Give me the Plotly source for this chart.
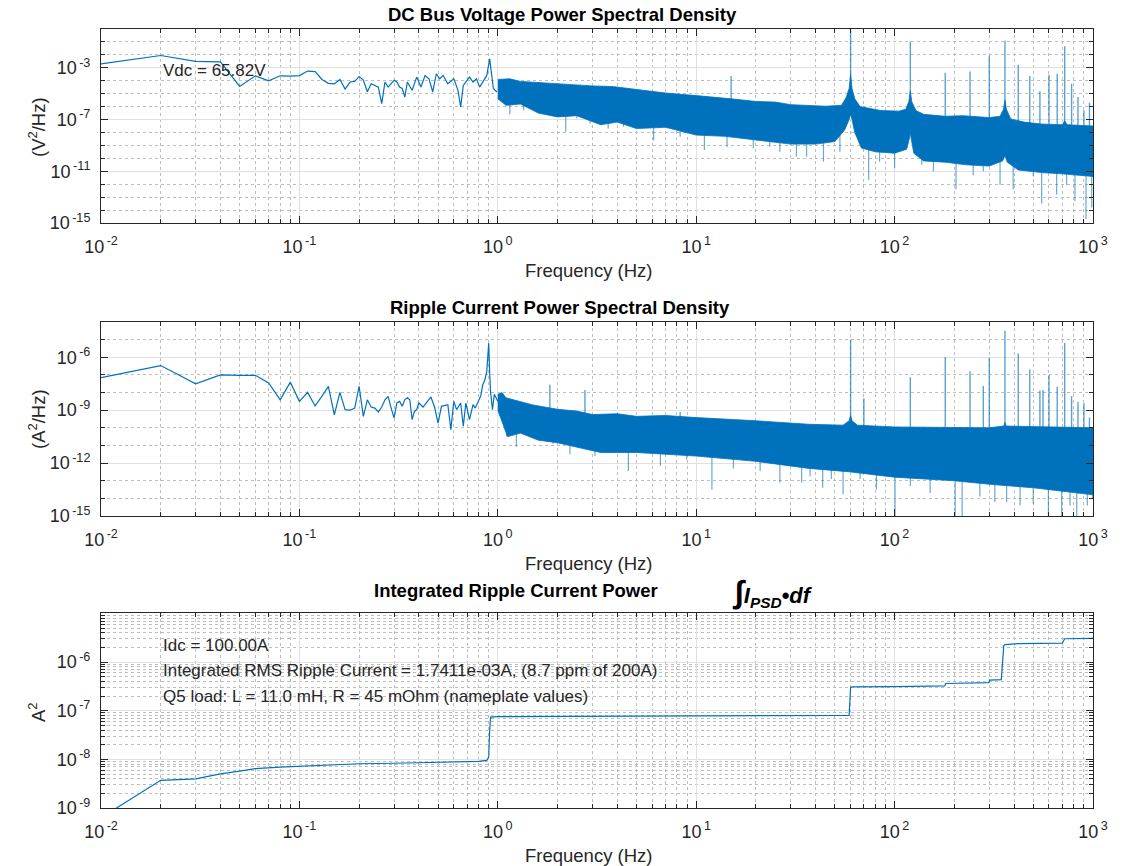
import numpy as np
import plotly.graph_objects as go

# ---------------- canvas / layout geometry (page pixel frame) ----------------
W, H = 1124, 866
AX_L, AX_R, AX_T, AX_B = 101, 1093, 29, 808          # plot block edges in page pixels
L, T = AX_L, AX_T
R, B = W - AX_R, H - AX_B
BLUE = '#0072BD'
AXC = '#262626'
FONT = 'Liberation Sans, Arial, Helvetica, sans-serif'

# ---------------- Panel 1 : DC bus voltage PSD (log10 V^2/Hz) ----------------
vdc_low_f = [0.01, 0.02, 0.03, 0.04, 0.05, 0.06, 0.07, 0.08, 0.09, 0.10, 0.11, 0.12, 0.13,
             0.14, 0.15, 0.16, 0.17, 0.18, 0.19, 0.20, 0.21, 0.22, 0.23, 0.24, 0.25, 0.26,
             0.27, 0.28, 0.30, 0.31, 0.32, 0.33, 0.34, 0.35, 0.37, 0.39, 0.41, 0.43, 0.45,
             0.47, 0.49, 0.51, 0.53, 0.56, 0.60, 0.63, 0.65, 0.67, 0.70, 0.72, 0.75, 0.78,
             0.81, 0.84, 0.88, 0.91, 0.95, 0.99]
vdc_low_log = [-2.69, -2.05, -2.51, -2.54, -4.44, -3.62, -4.00, -3.62, -3.65, -3.60, -3.25, -3.30, -3.90,
               -4.20, -4.25, -3.90, -4.64, -4.10, -4.05, -3.67, -3.95, -4.85, -4.23, -4.36, -4.50, -5.77,
               -4.10, -4.49, -3.97, -4.10, -4.49, -4.60, -5.26, -4.10, -4.74, -3.72, -4.49, -3.59, -3.85,
               -4.87, -3.46, -3.85, -3.59, -4.23, -3.85, -4.74, -6.03, -4.36, -3.97, -3.72, -4.10, -3.85,
               -4.49, -4.10, -3.59, -2.31, -4.60, -4.87]

vdc_up_f = [1.0, 1.15, 1.3, 1.6, 2.0, 2.4, 3.0, 3.8, 5.0, 7.0, 10, 12, 15, 20, 25, 30, 45, 54, 57,
            59, 60, 61, 63, 67, 85, 105, 114, 118, 120, 122, 128, 140, 180, 220, 260, 300, 340,
            354, 360, 366, 385, 450, 550, 700, 720, 740, 850, 1000]
vdc_up_log = [-3.9, -3.85, -4.05, -4.15, -4.2, -4.3, -4.4, -4.45, -4.7, -4.95, -5.15, -5.25, -5.4,
              -5.6, -5.65, -5.85, -5.97, -5.9, -5.3, -4.6, -3.5, -4.6, -5.4, -6.0, -6.3, -6.35,
              -6.2, -5.6, -4.8, -5.6, -6.3, -6.6, -6.75, -6.7, -6.8, -6.85, -6.75, -6.2, -5.5,
              -6.2, -6.95, -7.2, -7.35, -7.4, -7.1, -7.4, -7.45, -7.5]
vdc_lo_f = [1.0, 1.1, 1.3, 1.6, 2.0, 2.5, 3.3, 4, 5, 7, 10, 14, 20, 30, 40, 50, 56, 59, 60, 61, 63,
            68, 80, 100, 115, 119, 120, 121, 125, 140, 180, 230, 300, 350, 360, 370, 420, 550,
            700, 850, 1000]
vdc_lo_log = [-5.4, -5.9, -5.8, -6.5, -6.8, -6.7, -7.4, -7.2, -7.7, -7.6, -8.2, -8.3, -8.6, -8.9,
              -8.9, -8.7, -7.8, -7.0, -6.6, -7.0, -8.0, -9.2, -9.5, -9.6, -9.3, -8.4, -8.0, -8.4,
              -9.6, -10.2, -10.3, -10.5, -10.6, -10.2, -9.8, -10.3, -10.9, -11.1, -11.2, -11.3,
              -11.4]
vdc_spike_f = [15, 60, 120, 180, 240, 300, 360, 420, 480, 540, 600, 660, 720, 780, 840, 900, 960]
vdc_spike_log = [-3.64, 0.5, -0.97, -3.38, -3.28, -2.05, -0.9, -2.77, -3.64, -4.82, -3.54, -3.46,
                 -1.33, -4.23, -5.26, -6.28, -5.7]
vdc_dip_f = [1.15, 1.35, 1.6, 2.2, 2.5, 2.92, 3.6, 4.3, 6.1, 8.3, 11, 12.4, 14.3, 19.4, 23.5,
             26.4, 32, 36, 43.8, 53, 74, 84, 100, 137, 157, 204, 249, 280, 340, 396, 500, 551,
             656, 736, 811, 922, 985]
vdc_dip_log = [-6.6, -6.28, -6.28, -7.95, -6.9, -7.3, -7.7, -7.56, -8.6, -8.33, -9.36, -8.2, -9.1,
               -9.23, -9.1, -9.5, -9.87, -9.87, -10.26, -9.5, -11.67, -10.26, -10.77, -10.5, -11.0,
               -12.4, -11.3, -11.0, -12.05, -12.4, -11.4, -13.5, -12.8, -12.05, -13.3, -14.7,
               -13.8]

# ---------------- Panel 2 : ripple current PSD (log10 A^2/Hz) ----------------
irp_low_f = [0.01, 0.02, 0.03, 0.04, 0.05, 0.06, 0.07, 0.08, 0.09, 0.10, 0.11, 0.12, 0.13, 0.14,
             0.15, 0.16, 0.17, 0.18, 0.19, 0.20, 0.21, 0.22, 0.23, 0.24, 0.25, 0.26, 0.27, 0.28,
             0.29, 0.30, 0.31, 0.32, 0.33, 0.34, 0.35, 0.36, 0.37, 0.38, 0.39, 0.40, 0.42, 0.44,
             0.45, 0.46, 0.48, 0.50, 0.52, 0.54, 0.56, 0.58, 0.60, 0.62, 0.65, 0.67, 0.69, 0.72,
             0.75, 0.77, 0.80, 0.82, 0.84, 0.86, 0.88, 0.90, 0.91, 0.92, 0.94, 0.96, 0.98, 1.00]
irp_low_log = [-7.15, -6.47, -7.50, -7.00, -7.03, -7.02, -7.46, -8.41, -7.41, -8.50, -7.99, -8.76,
               -8.20, -7.65, -9.27, -7.99, -8.97, -9.00, -8.88, -7.65, -9.35, -8.41, -8.82, -8.88,
               -9.10, -8.82, -8.41, -8.22, -8.88, -9.44, -8.59, -8.50, -8.78, -8.40, -8.30, -8.41,
               -9.54, -9.07, -8.97, -8.59, -8.82, -8.50, -8.41, -8.25, -8.82, -9.73, -8.78, -8.75,
               -8.69, -10.1, -8.50, -8.97, -8.59, -9.91, -8.59, -9.54, -8.69, -8.88, -8.41, -8.20,
               -7.56, -7.30, -6.80, -5.20, -6.90, -8.00, -8.97, -8.10, -8.30, -8.50]

irp_up_f = [1.0, 1.05, 1.1, 1.3, 1.5, 2.0, 2.5, 3.0, 4.0, 5.0, 7.0, 10, 14, 20, 37, 55, 59, 60, 61,
            65, 100, 300, 355, 360, 365, 1000]
irp_up_log = [-8.1, -8.0, -8.3, -8.5, -8.7, -8.95, -9.05, -9.25, -9.2, -9.35, -9.3, -9.42, -9.5,
              -9.6, -9.8, -9.85, -9.6, -9.3, -9.6, -9.85, -9.95, -10.0, -9.9, -9.7, -9.9, -10.0]
irp_lo_f = [1.0, 1.05, 1.12, 1.3, 1.6, 2.0, 3.3, 5, 10, 20, 37, 60, 100, 200, 300, 500, 1000]
irp_lo_log = [-9.0, -9.6, -10.5, -10.3, -10.7, -10.85, -11.4, -11.4, -11.6, -11.9, -12.3, -12.5,
              -12.8, -13.0, -13.2, -13.4, -13.8]
irp_spike_f = [1.83, 2.75, 8.3, 60, 70, 120, 180, 240, 280, 300, 360, 420, 480, 540, 560, 600,
               660, 720, 780, 840, 900, 960]
irp_spike_log = [-7.56, -7.85, -9.1, -5.0, -8.33, -7.13, -5.98, -6.79, -7.63, -6.03, -4.49, -5.79,
                 -6.69, -7.88, -7.85, -7.01, -7.67, -5.19, -8.2, -8.54, -8.6, -9.42]
irp_dip_f = [1.11, 1.24, 1.45, 1.9, 2.31, 3.09, 4.55, 6.6, 8.95, 12, 15.4, 21, 26.4, 34, 37.5,
             43.4, 48, 55, 67, 81, 100.5, 120, 151, 202, 219, 269, 320, 367, 429, 500, 596, 695,
             766, 828, 936, 995]
irp_dip_log = [-10.48, -11.07, -10.1, -10.9, -11.5, -11.6, -12.45, -12.15, -11.8, -13.5, -12.3,
               -12.45, -13.1, -13.1, -12.74, -13.4, -12.9, -13.77, -12.9, -13.5, -15.5, -13.3,
               -13.7, -15.5, -15.5, -13.9, -14.2, -14.2, -14.4, -14.3, -15.2, -15.5, -14.4, -15.2,
               -14.4, -14.0]

# ---------------- Panel 3 : integrated ripple current power (log10 A^2) ----------------
int_f = [0.01, 0.02, 0.03, 0.04, 0.05, 0.06, 0.08, 0.10, 0.2, 0.3, 0.5, 0.8, 0.88, 0.90, 0.91,
         0.92, 1.0, 2, 5, 10, 30, 59, 60, 61, 100, 179, 181, 299, 301, 345, 355, 360, 420, 700,
         720, 1000]
int_log = [-9.2, -8.43, -8.40, -8.30, -8.24, -8.19, -8.16, -8.14, -8.09, -8.08, -8.06, -8.04,
           -8.02, -7.95, -7.40, -7.13, -7.12, -7.115, -7.11, -7.105, -7.10, -7.095, -6.52, -6.51,
           -6.505, -6.49, -6.44, -6.42, -6.37, -6.36, -5.66, -5.64, -5.62, -5.61, -5.52, -5.51]

# ---------------- axis tick definitions ----------------
x_exp = [-2, -1, 0, 1, 2, 3]
y1_exp = [-15, -11, -7, -3]
y2_exp = [-15, -12, -9, -6]
y3_exp = [-9, -8, -7, -6]


def p10(a):
    return [10.0 ** v for v in a]


def sup_labels(exps):
    return ['10<sup>\u2009%d</sup>' % e for e in exps]


def minor_2to9(lo, hi):
    out = []
    for d in range(lo, hi):
        for m in range(2, 10):
            out.append(m * 10.0 ** d)
    return out


def decade_minor(lo, hi, majors):
    return [10.0 ** d for d in range(lo, hi + 1) if d not in majors]


def spikes(fs, peaks, env_f, env_log):
    xs, ys = [], []
    ef = np.log10(env_f)
    for f, p in zip(fs, peaks):
        base = np.interp(np.log10(f), ef, env_log) - 0.6
        xs += [f, f, None]
        ys += [10 ** base, 10 ** p, None]
    return xs, ys


def dips(fs, vals, env_f, env_log):
    xs, ys = [], []
    ef = np.log10(env_f)
    for f, v in zip(fs, vals):
        base = np.interp(np.log10(f), ef, env_log) + 0.5
        xs += [f, f, None]
        ys += [10 ** base, 10 ** v, None]
    return xs, ys


fig = go.Figure()


def add_psd(xref, yref, low_f, low_log, up_f, up_log, lo_f, lo_log, sp_f, sp_log, dp_f, dp_log):
    bx = list(up_f) + list(lo_f)[::-1]
    by = p10(up_log) + p10(lo_log)[::-1]
    fig.add_trace(go.Scatter(x=bx, y=by, fill='toself', fillcolor=BLUE, mode='lines',
                             line=dict(color=BLUE, width=0.8), xaxis=xref, yaxis=yref,
                             showlegend=False, hoverinfo='skip'))
    sx, sy = spikes(sp_f, sp_log, up_f, up_log)
    fig.add_trace(go.Scatter(x=sx, y=sy, mode='lines', line=dict(color='rgba(0,114,189,0.65)', width=1.4),
                             xaxis=xref, yaxis=yref, showlegend=False, hoverinfo='skip'))
    dx, dy = dips(dp_f, dp_log, lo_f, lo_log)
    fig.add_trace(go.Scatter(x=dx, y=dy, mode='lines', line=dict(color='rgba(0,114,189,0.6)', width=1.2),
                             xaxis=xref, yaxis=yref, showlegend=False, hoverinfo='skip'))
    fig.add_trace(go.Scatter(x=low_f, y=p10(low_log), mode='lines', line=dict(color=BLUE, width=1.2),
                             xaxis=xref, yaxis=yref, showlegend=False, hoverinfo='skip'))


add_psd('x', 'y', vdc_low_f, vdc_low_log, vdc_up_f, vdc_up_log, vdc_lo_f, vdc_lo_log,
        vdc_spike_f, vdc_spike_log, vdc_dip_f, vdc_dip_log)
add_psd('x2', 'y2', irp_low_f, irp_low_log, irp_up_f, irp_up_log, irp_lo_f, irp_lo_log,
        irp_spike_f, irp_spike_log, irp_dip_f, irp_dip_log)
fig.add_trace(go.Scatter(x=int_f, y=p10(int_log), mode='lines', line=dict(color=BLUE, width=1.2),
                         xaxis='x3', yaxis='y3', showlegend=False, hoverinfo='skip'))


def px2x(px):          # page pixel -> paper x
    return (px - AX_L) / (AX_R - AX_L)


def py2y(py):          # page pixel -> paper y
    return (AX_B - py) / (AX_B - AX_T)


def dom(top_px, bot_px):
    return [py2y(bot_px), py2y(top_px)]


common = dict(type='log', ticks='inside', ticklen=7, tickwidth=1, tickcolor=AXC, showline=True,
              linecolor=AXC, linewidth=1, mirror='allticks', showgrid=True, gridcolor='#e1e1e1',
              gridwidth=1, zeroline=False, tickfont=dict(family=FONT, size=18, color=AXC))


def minor_cfg(vals):
    return dict(tickmode='array', tickvals=vals, ticks='inside', ticklen=4, tickcolor=AXC,
                showgrid=True, gridcolor='#bdbdbd', griddash='dot', gridwidth=1)


xminor = minor_2to9(-2, 3)
for i, anchor in enumerate(['y', 'y2', 'y3']):
    name = 'xaxis' if i == 0 else 'xaxis%d' % (i + 1)
    fig.layout[name] = dict(common, range=[-2, 3], tickmode='array', tickvals=p10(x_exp),
                            ticktext=sup_labels(x_exp), anchor=anchor, domain=[0, 1],
                            ticklabelstandoff=7, minor=minor_cfg(xminor))

fig.layout['yaxis'] = dict(common, range=[-15, 0], tickmode='array', tickvals=p10(y1_exp),
                           ticktext=sup_labels(y1_exp), anchor='x', domain=dom(29, 223),
                           ticklabelstandoff=6, minor=minor_cfg(decade_minor(-15, 0, y1_exp)))
fig.layout['yaxis2'] = dict(common, range=[-15, -4], tickmode='array', tickvals=p10(y2_exp),
                            ticktext=sup_labels(y2_exp), anchor='x2', domain=dom(322, 516),
                            ticklabelstandoff=6, minor=minor_cfg(decade_minor(-15, -4, y2_exp)))
fig.layout['yaxis3'] = dict(common, range=[-9, -4.99], tickmode='array', tickvals=p10(y3_exp),
                            ticktext=sup_labels(y3_exp), anchor='x3', domain=dom(613, 808),
                            ticklabelstandoff=6, minor=minor_cfg(minor_2to9(-9, -5)))

ann = []


def text(px, py, s, size=16, bold=False, xanchor='center', angle=0, italic=False, color='#000000'):
    if bold:
        s = '<b>%s</b>' % s
    if italic:
        s = '<i>%s</i>' % s
    ann.append(dict(x=px2x(px), y=py2y(py), xref='paper', yref='paper', text=s, showarrow=False,
                    xanchor=xanchor, yanchor='middle', textangle=angle,
                    font=dict(family=FONT, size=size, color=color)))


text(562, 14, 'DC Bus Voltage Power Spectral Density', size=18.5, bold=True)
text(560, 307, 'Ripple Current Power Spectral Density', size=18.5, bold=True)
text(516, 590, 'Integrated Ripple Current Power', size=18.5, bold=True)
text(772, 592, '<span style="font-size:32px">∫</span>I<sub>PSD</sub>•df', size=22, bold=True, italic=True)
for yy in (270, 563, 855):
    text(588, yy, 'Frequency (Hz)', size=18.5, color=AXC)
text(37, 127, '(V<sup>2</sup>/Hz)', size=18.5, angle=-90, color=AXC)
text(37, 419, '(A<sup>2</sup>/Hz)', size=18.5, angle=-90, color=AXC)
text(37, 712, 'A<sup>2</sup>', size=18.5, angle=-90, color=AXC)
text(161, 70, 'Vdc = 65.82V', size=17, xanchor='left', color=AXC)
text(161, 645, 'Idc = 100.00A', size=17, xanchor='left', color=AXC)
text(161, 670, 'Integrated RMS Ripple Current = 1.7411e-03A, (8.7 ppm of 200A)', size=17,
     xanchor='left', color=AXC)
text(161, 696, 'Q5 load: L = 11.0 mH, R = 45 mOhm (nameplate values)', size=17, xanchor='left',
     color=AXC)

fig.update_layout(width=W, height=H, margin=dict(l=L, r=R, t=T, b=B, autoexpand=False),
                  paper_bgcolor='white', plot_bgcolor='white', showlegend=False,
                  annotations=ann, font=dict(family=FONT, color=AXC))

# remove the default 8px page margin so the figure fills the window exactly
fig.write_html('out.html', config={'displayModeBar': False},
               post_script="document.body.style.margin='0px';document.body.style.overflow='hidden';")
